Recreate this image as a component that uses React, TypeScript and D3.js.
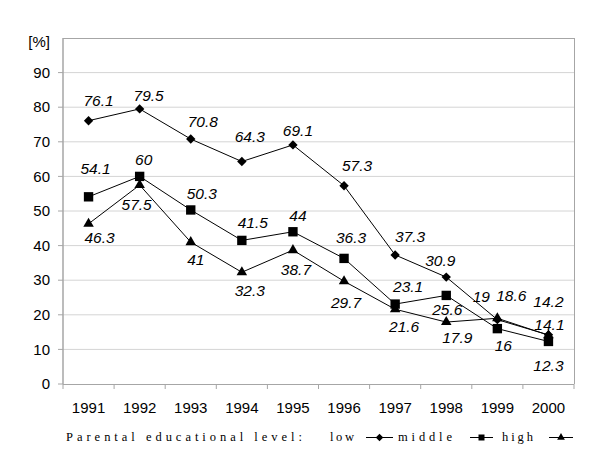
import React from 'react';
import * as d3 from 'd3';

const years = ['1991', '1992', '1993', '1994', '1995', '1996', '1997', '1998', '1999', '2000'];
const lowValues = [76.1, 79.5, 70.8, 64.3, 69.1, 57.3, 37.3, 30.9, 18.6, 14.2];
const middleValues = [54.1, 60, 50.3, 41.5, 44, 36.3, 23.1, 25.6, 16, 12.3];
const highValues = [46.3, 57.5, 41, 32.3, 38.7, 29.7, 21.6, 17.9, 19, 14.1];
const yTicks = [0, 10, 20, 30, 40, 50, 60, 70, 80, 90];

// hand-placed label offsets (dx, dy) from each marker, like the original
const lowOffsets = [[10, -20], [9, -13], [12, -17], [8, -25], [5, -14], [13, -20], [15, -18], [-6, -17], [14, -24], [0, -33]];
const middleOffsets = [[7, -28], [4, -17], [11, -16], [11, -18], [5, -16], [7, -21], [13, -17], [1, 14], [6, 17], [0, 24]];
const highOffsets = [[11, 14], [-3, 20], [5, 17], [8, 18], [3, 19], [2, 21], [9, 17], [11, 16], [-16, -22], [1, -11]];

const W = 600;
const H = 471;
const left = 63, right = 574, top = 38, bottom = 384;
const sans = '"Liberation Sans", Arial, sans-serif';
const serif = '"Liberation Serif", "Times New Roman", serif';

const x = d3.scaleBand().domain(years).range([left, right]).padding(0);
const y = d3.scaleLinear().domain([0, 100]).range([bottom, top]);
const cx = (yr: string) => (x(yr) as number) + x.bandwidth() / 2;

const diamond = d3.symbol(d3.symbolSquare, 44)();
const square = d3.symbol(d3.symbolSquare, 88)();
const triangle = d3.symbol(d3.symbolTriangle, 48)();

const series = [
  { name: 'low', values: lowValues, offsets: lowOffsets, shape: diamond, rot: 45 },
  { name: 'middle', values: middleValues, offsets: middleOffsets, shape: square, rot: 0 },
  { name: 'high', values: highValues, offsets: highOffsets, shape: triangle, rot: 0 },
];

const line = d3.line<number>().x((_, i) => cx(years[i])).y(d => y(d));

export default function App() {
  const grid = '#d4d4d4';
  const axis = '#a6a6a6';
  return (
    <svg width={W} height={H} style={{ position: 'absolute', left: 0, top: 0, background: 'white' }}>
      {yTicks.filter(t => t > 0).map(t => (
        <line key={t} x1={left} x2={right} y1={y(t)} y2={y(t)} stroke={grid} strokeWidth={1} />
      ))}
      <line x1={left} x2={right} y1={top + 0.5} y2={top + 0.5} stroke={axis} />
      <line x1={right + 0.5} x2={right + 0.5} y1={top} y2={bottom} stroke={axis} />
      <line x1={left} x2={left} y1={top} y2={bottom} stroke={axis} strokeWidth={1.5} />
      <line x1={left} x2={right} y1={bottom + 0.5} y2={bottom + 0.5} stroke={axis} />
      {yTicks.map(t => (
        <g key={t}>
          <line x1={left - 5} x2={left} y1={y(t)} y2={y(t)} stroke={axis} />
          <text x={50} y={y(t)} dy="0.35em" textAnchor="end" fontFamily={sans} fontSize={15}>{t}</text>
        </g>
      ))}
      <text x={50} y={42} dy="0.35em" textAnchor="end" fontFamily={sans} fontSize={15}>[%]</text>
      {years.map((yr, i) => (
        <line key={yr} x1={left + i * x.bandwidth()} x2={left + i * x.bandwidth()} y1={bottom} y2={bottom + 5} stroke={axis} />
      ))}
      <line x1={right} x2={right} y1={bottom} y2={bottom + 5} stroke={axis} />
      {years.map(yr => (
        <text key={yr} x={cx(yr)} y={408} dy="0.35em" textAnchor="middle" fontFamily={sans} fontSize={15}>{yr}</text>
      ))}
      {series.map(s => (
        <g key={s.name}>
          <path d={line(s.values) || ''} fill="none" stroke="black" strokeWidth={1} />
          {s.values.map((v, i) => (
            <path key={i} d={s.shape || ''} transform={`translate(${cx(years[i])},${y(v)}) rotate(${s.rot})`} fill="black" />
          ))}
          {s.values.map((v, i) => (
            <text key={'l' + i} x={cx(years[i]) + s.offsets[i][0]} y={y(v) + s.offsets[i][1]} dy="0.35em"
              textAnchor="middle" fontFamily={sans} fontStyle="italic" fontSize={15.5}>{v}</text>
          ))}
        </g>
      ))}
      <g fontFamily={serif} fontSize={12.5}>
        <text x={66} y={437} dy="0.35em" textLength={236} lengthAdjust="spacing">Parental educational level:</text>
        <text x={330} y={437} dy="0.35em" textLength={24} lengthAdjust="spacing">low</text>
        <text x={398} y={437} dy="0.35em" textLength={54} lengthAdjust="spacing">middle</text>
        <text x={502} y={437} dy="0.35em" textLength={31} lengthAdjust="spacing">high</text>
      </g>
      {[[366, 393, diamond, 45], [470, 493, d3.symbol(d3.symbolSquare, 36)(), 0], [549, 573, d3.symbol(d3.symbolTriangle, 26)(), 0]].map((m, i) => (
        <g key={i}>
          <line x1={m[0] as number} x2={m[1] as number} y1={437.5} y2={437.5} stroke="black" />
          <path d={(m[2] as string) || ''} transform={`translate(${((m[0] as number) + (m[1] as number)) / 2},437.5) rotate(${m[3]})${i === 0 ? ' scale(0.8)' : ''}`} fill="black" />
        </g>
      ))}
    </svg>
  );
}
